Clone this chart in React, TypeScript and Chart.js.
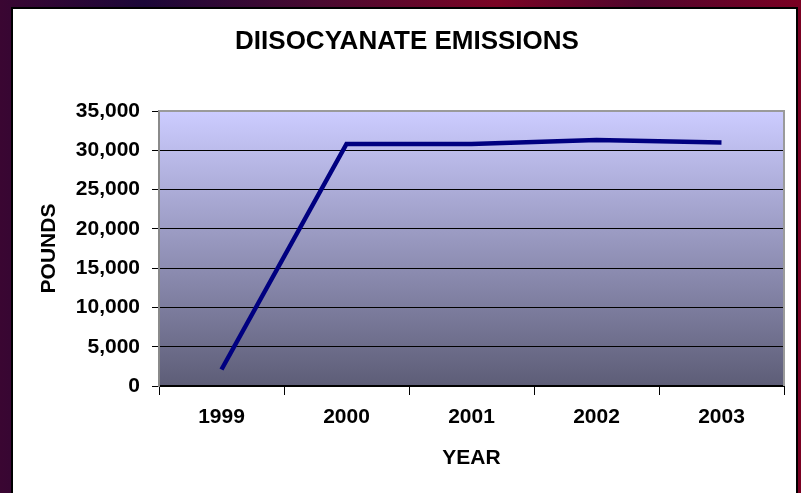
import React, { useEffect, useRef } from "react";
import { Chart, registerables } from "chart.js";

Chart.register(...registerables);

const titleText = "DIISOCYANATE EMISSIONS";
const years = ["1999", "2000", "2001", "2002", "2003"];
const pounds = [2100, 30800, 30800, 31300, 31000];
const yMin = 0;
const yMax = 35000;
const yStep = 5000;

const FONT = "'Liberation Sans', Arial, sans-serif";

const plotBg = {
  id: "plotBg",
  beforeDraw(chart: any) {
    const { ctx, chartArea: a } = chart;
    if (!a) return;
    const g = ctx.createLinearGradient(0, a.top, 0, a.bottom);
    g.addColorStop(0, "#ccccff");
    g.addColorStop(1, "#5d5d77");
    ctx.save();
    ctx.fillStyle = g;
    ctx.fillRect(a.left, a.top, a.right - a.left, a.bottom - a.top);
    ctx.restore();
  },
  afterDatasetsDraw(chart: any) {
    const { ctx, chartArea: a } = chart;
    ctx.save();
    ctx.strokeStyle = "#9a9a9a";
    ctx.lineWidth = 2;
    ctx.beginPath();
    ctx.moveTo(a.left, a.top);
    ctx.lineTo(a.right, a.top);
    ctx.lineTo(a.right, a.bottom);
    ctx.stroke();
    ctx.restore();
  },
  afterDraw(chart: any) {
    const { ctx } = chart;
    ctx.save();
    ctx.fillStyle = "#000";
    ctx.font = `bold 26px ${FONT}`;
    ctx.textAlign = "center";
    ctx.textBaseline = "middle";
    ctx.fillText(titleText, 407, 42);
    ctx.restore();
  },
};

export default function App() {
  const ref = useRef<HTMLCanvasElement | null>(null);

  useEffect(() => {
    if (!ref.current) return;
    const chart = new Chart(ref.current, {
      type: "line",
      data: {
        labels: years,
        datasets: [
          {
            data: pounds,
            borderColor: "#000080",
            borderWidth: 4.5,
            pointRadius: 0,
            tension: 0,
            fill: false,
          },
        ],
      },
      options: {
        animation: false,
        responsive: false,
        layout: { padding: { left: 12, right: 17, top: 111, bottom: 0 } },
        plugins: {
          legend: { display: false },
          tooltip: { enabled: false },
          title: { display: false },
        },
        scales: {
          x: {
            offset: true,
            afterFit(scale: any) {
              scale.height = 107;
            },
            grid: {
              offset: true,
              drawOnChartArea: false,
              drawTicks: true,
              tickLength: 9,
              color: "#000",
              lineWidth: 1,
            },
            border: { display: true, color: "#000", width: 2 },
            ticks: {
              color: "#000",
              padding: 10,
              maxRotation: 0,
              font: { family: FONT, size: 21, weight: "bold", lineHeight: 1.2 },
            },
            title: {
              display: true,
              text: "YEAR",
              color: "#000",
              font: { family: FONT, size: 21, weight: "bold", lineHeight: 1.2 },
              padding: { top: 0, bottom: 22 },
            },
          },
          y: {
            min: yMin,
            max: yMax,
            afterFit(scale: any) {
              scale.width = 147;
            },
            grid: {
              color: "#000",
              lineWidth: 1,
              tickLength: 7,
              drawTicks: true,
            },
            border: { display: true, color: "#8a8a8a", width: 2 },
            ticks: {
              stepSize: yStep,
              color: "#000",
              padding: 12,
              font: { family: FONT, size: 21, weight: "bold", lineHeight: 1.2 },
              callback: (v: any) => Number(v).toLocaleString("en-US"),
            },
            title: {
              display: true,
              text: "POUNDS",
              color: "#000",
              font: { family: FONT, size: 21, weight: "bold", lineHeight: 1.2 },
              padding: { top: 25, bottom: 0 },
            },
          },
        },
      },
      plugins: [plotBg],
    });
    return () => chart.destroy();
  }, []);

  return (
    <div
      style={{
        position: "absolute",
        left: 0,
        top: 0,
        width: 801,
        height: 493,
        overflow: "hidden",
        background:
          "linear-gradient(90deg, #3a0632 0%, #1c0738 18%, #4a0a30 40%, #7a0424 62%, #50062c 80%, #7a0022 100%)",
      }}
    >
      <div
        style={{
          position: "absolute",
          left: 11,
          top: 7,
          width: 787,
          height: 486,
          background: "#000",
        }}
      />
      <div
        style={{
          position: "absolute",
          left: 13,
          top: 9,
          width: 783,
          height: 484,
          background: "#fff",
        }}
      />
      <canvas
        ref={ref}
        width={801}
        height={493}
        style={{ position: "absolute", left: 0, top: 0, width: 801, height: 493 }}
      />
    </div>
  );
}
